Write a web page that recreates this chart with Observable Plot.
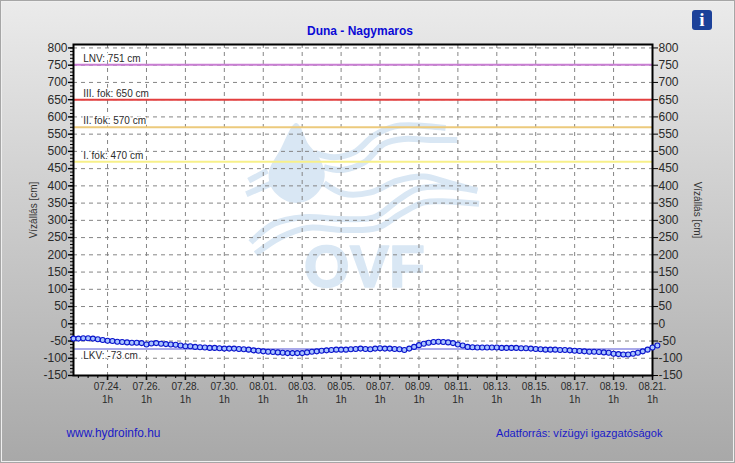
<!DOCTYPE html>
<html>
<head>
<meta charset="utf-8">
<style>
html,body{margin:0;padding:0;background:#fff;}
#wrap{position:relative;width:735px;height:463px;overflow:hidden;}
#wrap svg{display:block;}
#info{position:absolute;left:692px;top:10px;width:20px;height:20px;border-radius:3px;background:#1c4199;color:#fff;font:bold 19px/20px "Liberation Serif",serif;text-align:center;}
</style>
<script src="https://cdn.jsdelivr.net/npm/d3@7"></script>
<script src="https://cdn.jsdelivr.net/npm/@observablehq/plot@0.6"></script>
</head>
<body>
<div id="wrap"><div id="info">i</div></div>
<script>
// water level, one reading every 6 hours from 07.22 7h
const waterLevel = [
  -43,-43,-42,-42,-43,-45,-47,
  -49,-50,-52,-53,-54,-55,-55,-56,
  -60,-57,-56,-58,-59,-60,-61,-63,
  -65,-65,-67,-68,-69,-70,-70,-71,
  -72,-72,-72,-73,-74,-75,-77,-78,
  -80,-81,-82,-83,-84,-85,-85,-85,
  -85,-83,-81,-80,-78,-77,-76,-75,
  -75,-75,-74,-73,-72,-73,-74,-72,
  -71,-72,-72,-73,-74,-76,-72,-67,
  -62,-58,-55,-53,-52,-53,-54,-56,
  -60,-63,-67,-68,-69,-69,-69,-69,
  -69,-70,-70,-70,-70,-71,-71,-72,
  -73,-74,-75,-75,-75,-76,-76,-77,
  -78,-79,-80,-81,-81,-82,-83,-84,
  -87,-88,-89,-89,-87,-84,-80,-75,-69,-63
];
const upperLevels = [751, 650, 570, 470];
const upperLabels = ["LNV: 751 cm", "III. fok: 650 cm", "II. fok: 570 cm", "I. fok: 470 cm"];
const upperColors = ["#c97ed3", "#e33f3f", "#ecca7c", "#f7f08a"];
const lowLevel = [-73];
const lowLabel = "LKV: -73 cm";
const lowColor = "#a9a9ea";

const tickLabels = ["07.24.","07.26.","07.28.","07.30.","08.01.","08.03.","08.05.","08.07.","08.09.","08.11.","08.13.","08.15.","08.17.","08.19.","08.21."];
const yMajor = d3.range(-150, 801, 50);
const yMinor = d3.range(-150, 801, 10);

// watermark outline, in [days from chart start, cm]
const dropShape = [[11.45,580],[10.64,502],[10.09,444],[10.16,401],[10.64,369],[11.33,353],[12.1,362],[12.7,396],[12.87,435],[12.61,478],[12.01,522]];
const waves = [
  [[12.44,495],[13.38,483],[14.41,497],[15.44,546],[16.47,572],[17.67,575],[19.12,568]],
  [[12.87,454],[13.81,446],[14.93,468],[15.95,522],[16.98,536],[18.35,533],[19.72,533]],
  [[9.0,415],[9.96,444]],
  [[8.88,376],[10.13,406]],
  [[12.87,408],[13.9,377],[15.27,381],[16.64,415],[18.01,427],[19.21,410],[20.75,386]],
  [[9.1,236],[10.3,290],[11.84,309],[13.73,304],[15.44,309],[16.64,357],[17.67,391],[19.04,398],[20.75,386]],
  [[9.36,203],[10.64,251],[12.01,278],[13.9,272],[15.61,278],[16.81,319],[18.01,352],[19.21,355],[20.84,348]]
];
const watermarkText = "OVF";
const watermarkColor = "#d9e7f4";

const start = Date.UTC(2024, 6, 22, 7);
const sixHours = 6 * 36e5;
const series = waterLevel.map((v, i) => ({date: new Date(start + i * sixHours), value: v}));
const xMinor = series.filter((d, i) => i % 2 === 1).map(d => d.date);
const toTick = s => new Date(Date.UTC(2024, +s.slice(0, 2) - 1, +s.slice(3, 5), 1));
const xMajor = tickLabels.map(toTick);
const labelByTime = new Map(xMajor.map((d, i) => [+d, tickLabels[i]]));
const dayDate = d => new Date(start + d * 864e5);
const waveRows = waves.flatMap((w, k) => w.map(p => ({k, d: dayDate(p[0]), v: p[1]})));
const dropRows = dropShape.map(p => ({d: dayDate(p[0]), v: p[1]}));
const labelX = dayDate(0.5);

const textDark = "#2a2a2a";
const blue = "#1a1ac8";
const halo = {stroke: "white", strokeWidth: 3, fill: "#2c2c2c", fontSize: 10, textAnchor: "start"};

const chart = Plot.plot({
  width: 735, height: 463,
  marginLeft: 73, marginRight: 83, marginTop: 44, marginBottom: 88,
  style: {
    background: "linear-gradient(#ebebeb, #a8a8a8)",
    boxShadow: "inset 0 0 0 1px #a6a6a6, inset 0 0 0 2px #efefef",
    fontFamily: "'Liberation Sans', Arial, sans-serif",
    color: textDark
  },
  x: {type: "utc", domain: [new Date(start), new Date(start + 119 * sixHours)]},
  y: {domain: [-150, 810]},
  marks: [
    Plot.frame({fill: "white", stroke: "none"}),
    // watermark
    Plot.line(dropRows, {x: "d", y: "v", fill: watermarkColor, stroke: watermarkColor, curve: "catmull-rom-closed"}),
    Plot.line(waveRows, {x: "d", y: "v", z: "k", stroke: watermarkColor, strokeWidth: 6, curve: "catmull-rom", strokeLinecap: "butt"}),
    Plot.text([watermarkText], {x: () => dayDate(14.95), y: () => 162, fill: watermarkColor, stroke: watermarkColor, strokeWidth: 1.5, fontSize: 59, fontWeight: "bold"}),
    // grid
    Plot.ruleY(yMajor, {stroke: "#858585", strokeDasharray: "4,4", strokeWidth: 1}),
    Plot.ruleX(xMajor, {stroke: "#858585", strokeDasharray: "4,4", strokeWidth: 1}),
    // levels
    Plot.text(upperLevels, {x: () => labelX, y: d => d, text: (d, i) => upperLabels[i], dy: -6, ...halo}),
    Plot.text(lowLevel, {x: () => labelX, y: d => d, text: () => lowLabel, dy: 7, ...halo}),
    Plot.ruleY(upperLevels, {stroke: (d, i) => upperColors[i], strokeWidth: 2}),
    Plot.ruleY(lowLevel, {stroke: lowColor, strokeWidth: 2}),
    // axes
    Plot.axisY({anchor: "left", ticks: yMinor, tickSize: 3, tickFormat: () => "", label: null, stroke: "black"}),
    Plot.axisY({anchor: "left", ticks: yMajor, tickSize: 5, tickPadding: 1, tickFormat: d => String(d), label: null, fontSize: 12, stroke: "black", strokeWidth: 1.4}),
    Plot.axisY({anchor: "right", ticks: yMajor, tickSize: 5, tickPadding: 1, tickFormat: d => String(d), label: null, fontSize: 12, stroke: "black"}),
    Plot.axisX({anchor: "bottom", ticks: xMinor, tickSize: 3, tickFormat: () => "", label: null, stroke: "black"}),
    Plot.axisX({anchor: "bottom", ticks: xMajor, tickSize: 5, tickPadding: 1, tickFormat: d => labelByTime.get(+d) + "\n1h", lineHeight: 1.25, label: null, fontSize: 10, stroke: "black", strokeWidth: 1.6}),
    Plot.frame({stroke: "black", strokeWidth: 2}),
    // series
    Plot.line(series, {x: "date", y: "value", stroke: "#0a14cc", strokeWidth: 1}),
    Plot.dot(series, {x: "date", y: "value", r: 2.5, stroke: "#0a14cc", strokeWidth: 1.1, fill: "#a9c4ff"}),
    // page text
    Plot.text(["Duna - Nagymaros"], {frameAnchor: "top", lineAnchor: "middle", dx: -3, dy: -13, fontSize: 12, fontWeight: "bold", fill: "#0b0bd6"}),
    Plot.text(["www.hydroinfo.hu"], {frameAnchor: "bottom-left", lineAnchor: "middle", textAnchor: "start", dx: -7, dy: 58, fontSize: 11.9, fill: blue}),
    Plot.text(["Adatforrás: vízügyi igazgatóságok"], {frameAnchor: "bottom-right", lineAnchor: "middle", textAnchor: "end", dx: 10, dy: 58, fontSize: 11.1, fill: blue}),
    Plot.text(["Vízállás [cm]"], {frameAnchor: "left", textAnchor: "middle", rotate: -90, dx: -40, fontSize: 10, fill: "#333"}),
    Plot.text(["Vízállás [cm]"], {frameAnchor: "right", textAnchor: "middle", rotate: 90, dx: 45, fontSize: 10, fill: "#333"})
  ]
});
document.getElementById("wrap").prepend(chart);
</script>
</body>
</html>
